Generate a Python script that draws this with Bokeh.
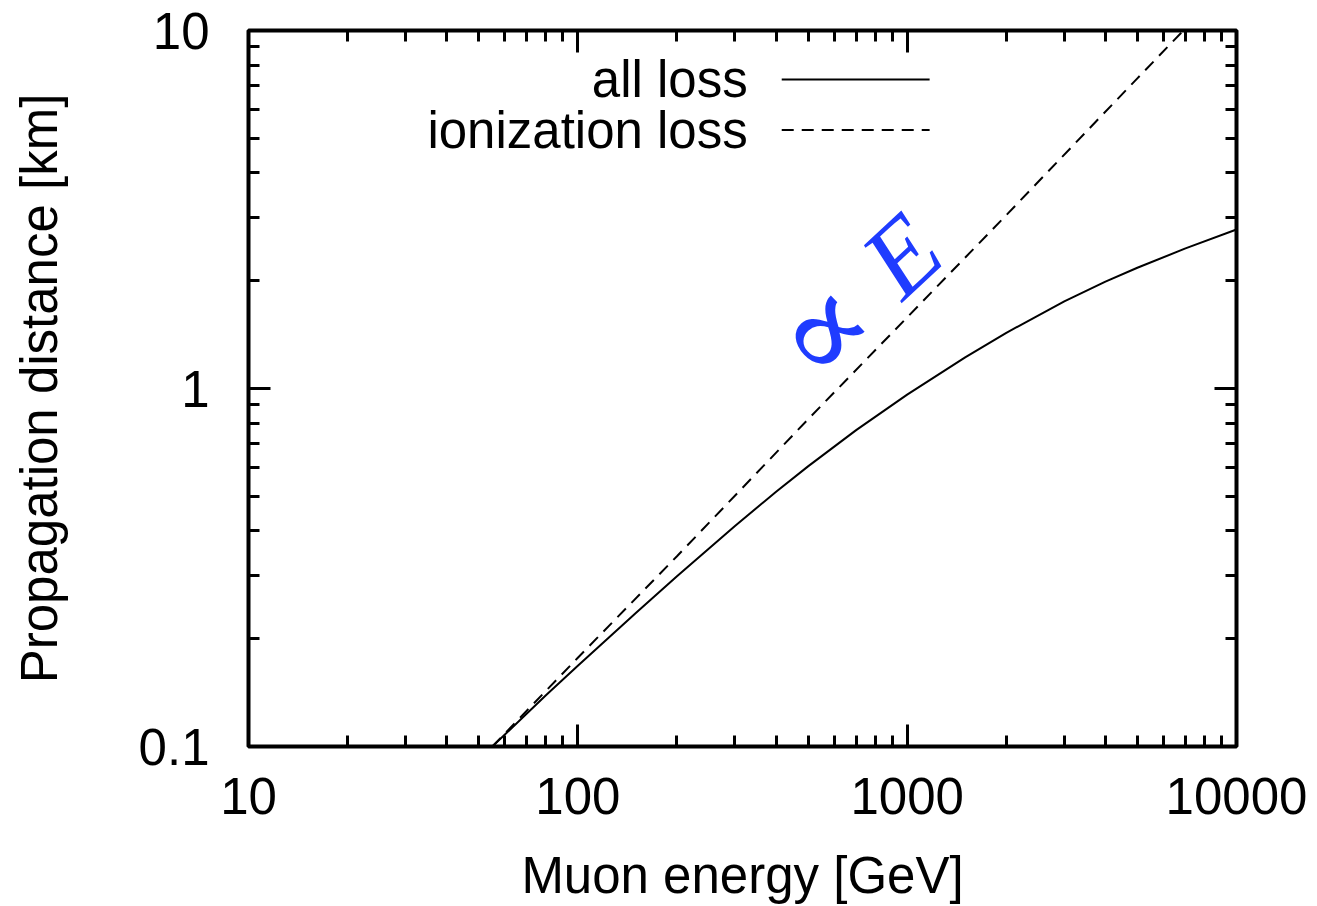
import math

from bokeh.plotting import figure
from bokeh.models import FixedTicker, LogAxis, Label, CustomJSTickFormatter
from bokeh.embed import file_html
from bokeh.resources import INLINE

# Muon energy [GeV] and propagation distance [km] including all energy losses
energy_all = [55, 80, 100, 150, 200, 300, 400, 500, 700, 1000, 1500, 2000, 3000, 4000, 5000, 7000, 10000]
distance_all = [0.1, 0.139, 0.168, 0.236, 0.299, 0.413, 0.515, 0.606, 0.765, 0.961, 1.221, 1.431, 1.752, 1.988, 2.174, 2.462, 2.78]

# Propagation distance with ionization loss only
energy_ion = [55, 100, 200, 500, 1000, 2000, 5000, 6900]
distance_ion = [0.1, 0.177, 0.34, 0.82, 1.58, 3.05, 7.35, 10.0]

x_major = [10, 100, 1000, 10000]
y_major = [0.1, 1, 10]
x_minor = [m * d for d in (10, 100, 1000) for m in range(2, 10)]
y_minor = [m * d for d in (0.1, 1) for m in range(2, 10)]

series_labels = ["all loss", "ionization loss"]
annotation_symbol = "\u221d"
annotation_var = "E"

FONT = "Liberation Sans"
FS = "51px"

p = figure(
    width=1317, height=906,
    x_axis_type="log", y_axis_type="log",
    x_range=(10, 10000), y_range=(0.1, 10),
    output_backend="svg", toolbar_location=None,
    min_border_left=248, min_border_right=81,
    min_border_top=30, min_border_bottom=158,
    background_fill_color="white", border_fill_color="white",
)
p.grid.visible = False
p.outline_line_color = "black"
p.outline_line_width = 4

xt = FixedTicker(ticks=x_major, minor_ticks=x_minor)
yt = FixedTicker(ticks=y_major, minor_ticks=y_minor)
fmt = CustomJSTickFormatter(code="return String(tick);")


def style_axis(ax, ticker, show_labels):
    ax.ticker = ticker
    ax.axis_line_color = None
    ax.major_tick_in = 22
    ax.major_tick_out = 0
    ax.minor_tick_in = 11
    ax.minor_tick_out = 0
    ax.major_tick_line_width = 3
    ax.minor_tick_line_width = 3
    ax.major_tick_line_color = "black"
    ax.minor_tick_line_color = "black"
    ax.formatter = fmt
    if show_labels:
        ax.major_label_text_font = FONT
        ax.major_label_text_font_size = FS
        ax.major_label_text_color = "black"
        ax.axis_label_text_font = FONT
        ax.axis_label_text_font_size = FS
        ax.axis_label_text_font_style = "normal"
        ax.axis_label_text_color = "black"
    else:
        ax.major_label_text_font_size = "1px"
        ax.major_label_text_alpha = 0
        ax.major_label_standoff = 0


style_axis(p.xaxis[0], xt, True)
style_axis(p.yaxis[0], yt, True)
p.xaxis[0].axis_label = "Muon energy [GeV]"
p.yaxis[0].axis_label = "Propagation distance [km]"
p.xaxis[0].major_label_standoff = 31
p.xaxis[0].axis_label_standoff = 30
p.yaxis[0].major_label_standoff = 39
p.yaxis[0].axis_label_standoff = 68

top = LogAxis()
right = LogAxis()
style_axis(top, xt, False)
style_axis(right, yt, False)
p.add_layout(top, "above")
p.add_layout(right, "right")

p.line(energy_all, distance_all, line_color="black", line_width=2)
p.line(energy_ion, distance_ion, line_color="black", line_width=2, line_dash="12 8")

# key in the upper part of the frame: text on the left, sample line on the right
key_text_x = 328
key_line_x = (416, 1170)
key_rows_y = [7.30, 5.27]
dashes = ["solid", "12 8"]
for lab, yy, dash in zip(series_labels, key_rows_y, dashes):
    p.add_layout(Label(x=key_text_x, y=yy, text=lab, text_align="right",
                       text_baseline="middle", text_font=FONT,
                       text_font_size=FS, text_color="black"))
    p.line(list(key_line_x), [yy, yy], line_color="black", line_width=2, line_dash=dash)

# proportional-to-E annotation along the ionization line
ang = math.radians(43)
p.add_layout(Label(x=550, y=1.46, text=annotation_symbol, angle=ang,
                   text_align="center", text_baseline="middle",
                   text_font="DejaVu Serif", text_font_size="130px",
                   text_color="#1f3cff"))
p.add_layout(Label(x=962, y=2.36, text=annotation_var, angle=ang,
                   text_align="center", text_baseline="middle",
                   text_font="Liberation Serif", text_font_style="italic",
                   text_font_size="104px", text_color="#1f3cff"))

open("out.html", "w").write(file_html(p, INLINE))
